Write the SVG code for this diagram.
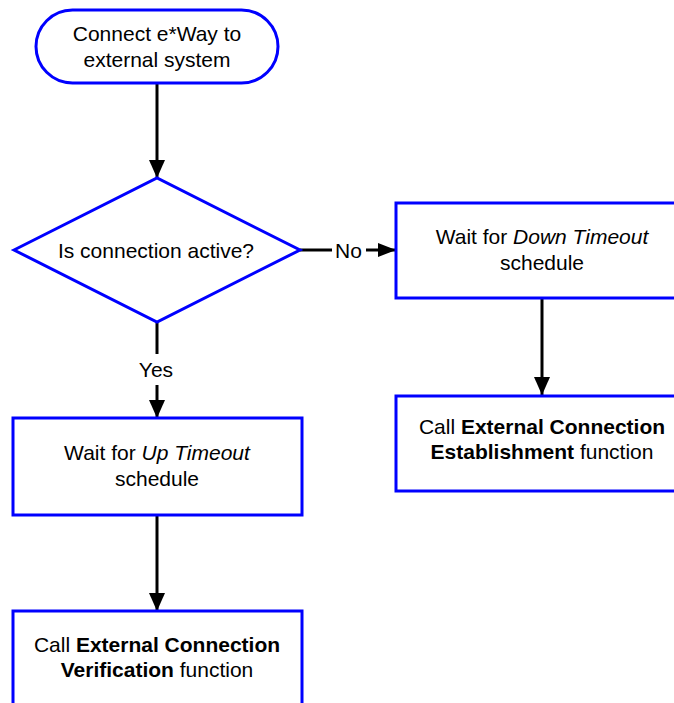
<svg xmlns="http://www.w3.org/2000/svg" width="674" height="703" viewBox="0 0 674 703">
<style>
.shape{fill:#fff;stroke:#0000ff;stroke-width:3}
.conn{stroke:#000;stroke-width:3;fill:none}
text{font-family:"Liberation Sans",Arial,sans-serif;font-size:21px;fill:#000;text-anchor:middle}
.b{font-weight:bold}
.i{font-style:italic}
</style>
<defs>
<marker id="ah" markerWidth="18" markerHeight="16" refX="18" refY="8" orient="auto" markerUnits="userSpaceOnUse">
<path d="M0,0 L18,8 L0,16 Z" fill="#000"/>
</marker>
<marker id="ahs" markerWidth="18" markerHeight="14" refX="18" refY="7" orient="auto" markerUnits="userSpaceOnUse">
<path d="M0,0 L18,7 L0,14 Z" fill="#000"/>
</marker>
</defs>
<rect width="674" height="703" fill="#fff"/>
<g id="connectors">
<line class="conn" x1="157" y1="83" x2="157" y2="178" marker-end="url(#ah)"/>
<line class="conn" x1="300" y1="250" x2="332" y2="250"/>
<text x="348.5" y="258">No</text>
<line class="conn" x1="366" y1="250" x2="396" y2="250" marker-end="url(#ahs)"/>
<line class="conn" x1="157" y1="322" x2="157" y2="354"/>
<text x="156" y="377">Yes</text>
<line class="conn" x1="157" y1="385" x2="157" y2="418" marker-end="url(#ah)"/>
<line class="conn" x1="157" y1="515" x2="157" y2="611" marker-end="url(#ah)"/>
<line class="conn" x1="542" y1="298" x2="542" y2="395" marker-end="url(#ah)"/>
</g>
<g id="start">
<rect class="shape" x="36" y="10" width="242" height="73" rx="36.5" ry="36.5"/>
<text x="157" y="41">Connect e*Way to</text>
<text x="157" y="67">external system</text>
</g>
<g id="decision">
<polygon class="shape" points="14,250 157,178 300,250 157,322"/>
<text x="156" y="257.5">Is connection active?</text>
</g>
<g id="waitDown">
<rect class="shape" x="396" y="203" width="300" height="95"/>
<text x="542" y="244">Wait for <tspan class="i">Down Timeout</tspan></text>
<text x="542" y="270">schedule</text>
</g>
<g id="callEstablish">
<rect class="shape" x="396" y="396" width="300" height="95"/>
<text x="542" y="434">Call <tspan class="b">External Connection</tspan></text>
<text x="542" y="459"><tspan class="b">Establishment</tspan> function</text>
</g>
<g id="waitUp">
<rect class="shape" x="13" y="418" width="289" height="97"/>
<text x="157" y="460">Wait for <tspan class="i">Up Timeout</tspan></text>
<text x="157" y="486">schedule</text>
</g>
<g id="callVerify">
<rect class="shape" x="13" y="611" width="289" height="120"/>
<text x="157" y="652">Call <tspan class="b">External Connection</tspan></text>
<text x="157" y="677"><tspan class="b">Verification</tspan> function</text>
</g>
</svg>
